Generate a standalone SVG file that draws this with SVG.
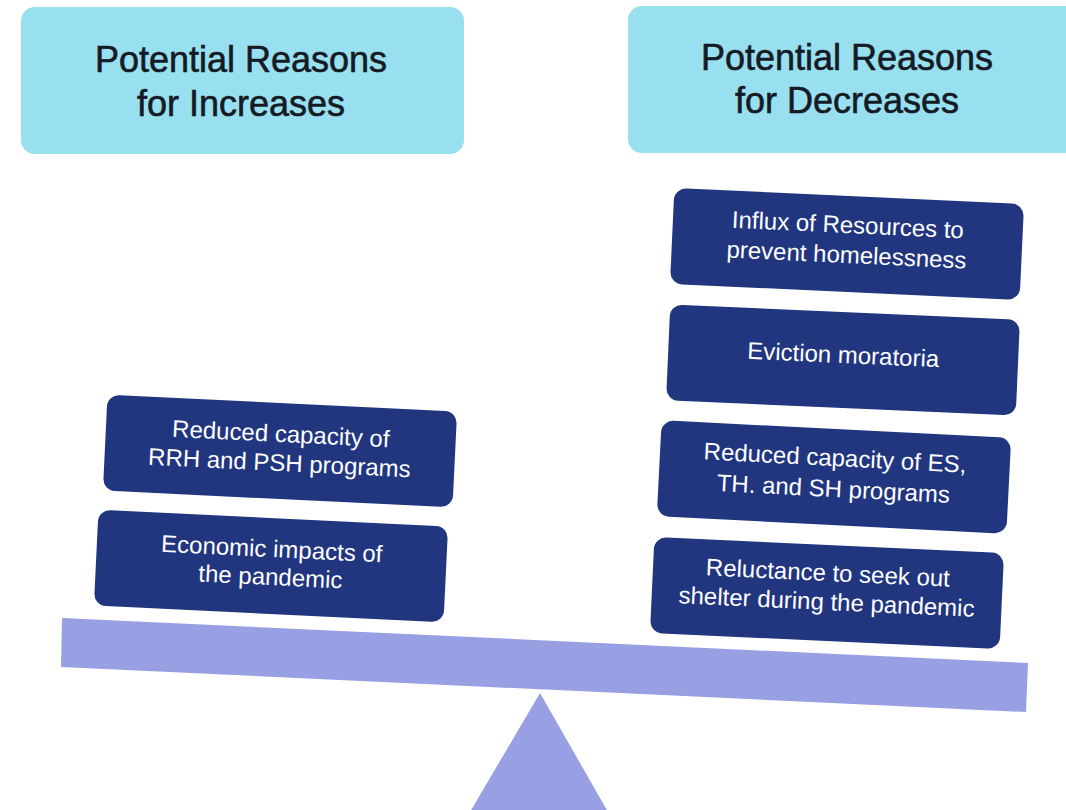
<svg xmlns="http://www.w3.org/2000/svg" width="1066" height="810" viewBox="0 0 1066 810">
  <style>
    .header rect { fill: #98E0F0; }
    .header text { font-family: "Liberation Sans", Arial, sans-serif; font-size: 36px; fill: #151a24; stroke: #151a24; stroke-width: 0.6; text-anchor: middle; }
    .reason rect { fill: #21367F; }
    .reason text { font-family: "Liberation Sans", Arial, sans-serif; font-size: 24px; fill: #ffffff; text-anchor: middle; }
    .scale { fill: #989FE3; }
  </style>

  <rect width="1066" height="810" fill="#ffffff"/>

  <!-- column headers -->
  <g id="header-increases" class="header">
    <rect x="21" y="7" width="443" height="147" rx="14"/>
    <text x="241" y="72">Potential Reasons</text>
    <text x="241" y="116">for Increases</text>
  </g>
  <g id="header-decreases" class="header">
    <rect x="628" y="6" width="452" height="147" rx="14"/>
    <text x="847" y="70">Potential Reasons</text>
    <text x="847" y="113">for Decreases</text>
  </g>

  <!-- balance: beam and fulcrum -->
  <g id="balance">
    <polygon class="scale" points="62,618 1028,663 1026,712 61,667"/>
    <polygon class="scale" points="540,693 470,812 608,812"/>
  </g>

  <!-- weights on the left pan -->
  <g id="reason-rrh-psh" class="reason" transform="translate(280,451) rotate(2.75)">
    <rect x="-175" y="-48" width="350" height="96" rx="12"/>
    <text x="0" y="-9">Reduced capacity of</text>
    <text x="0" y="20">RRH and PSH programs</text>
  </g>
  <g id="reason-economic" class="reason" transform="translate(271,566) rotate(2.75)">
    <rect x="-175" y="-48" width="350" height="96" rx="12"/>
    <text x="0" y="-9">Economic impacts of</text>
    <text x="0" y="19">the pandemic</text>
  </g>

  <!-- weights on the right pan -->
  <g id="reason-influx" class="reason" transform="translate(847,244) rotate(2.65)">
    <rect x="-175" y="-48" width="350" height="96" rx="12"/>
    <text x="0" y="-11">Influx of Resources to</text>
    <text x="0" y="19">prevent homelessness</text>
  </g>
  <g id="reason-eviction" class="reason" transform="translate(843,360) rotate(2.5)">
    <rect x="-175" y="-48" width="350" height="96" rx="12"/>
    <text x="0" y="3">Eviction moratoria</text>
  </g>
  <g id="reason-es-th-sh" class="reason" transform="translate(834,477) rotate(2.9)">
    <rect x="-175" y="-48" width="350" height="96" rx="12"/>
    <text x="0" y="-11">Reduced capacity of ES,</text>
    <text x="0" y="20">TH. and SH programs</text>
  </g>
  <g id="reason-reluctance" class="reason" transform="translate(827,593) rotate(2.65)">
    <rect x="-175" y="-48" width="350" height="96" rx="12"/>
    <text x="0" y="-12">Reluctance to seek out</text>
    <text x="0" y="17">shelter during the pandemic</text>
  </g>
</svg>
